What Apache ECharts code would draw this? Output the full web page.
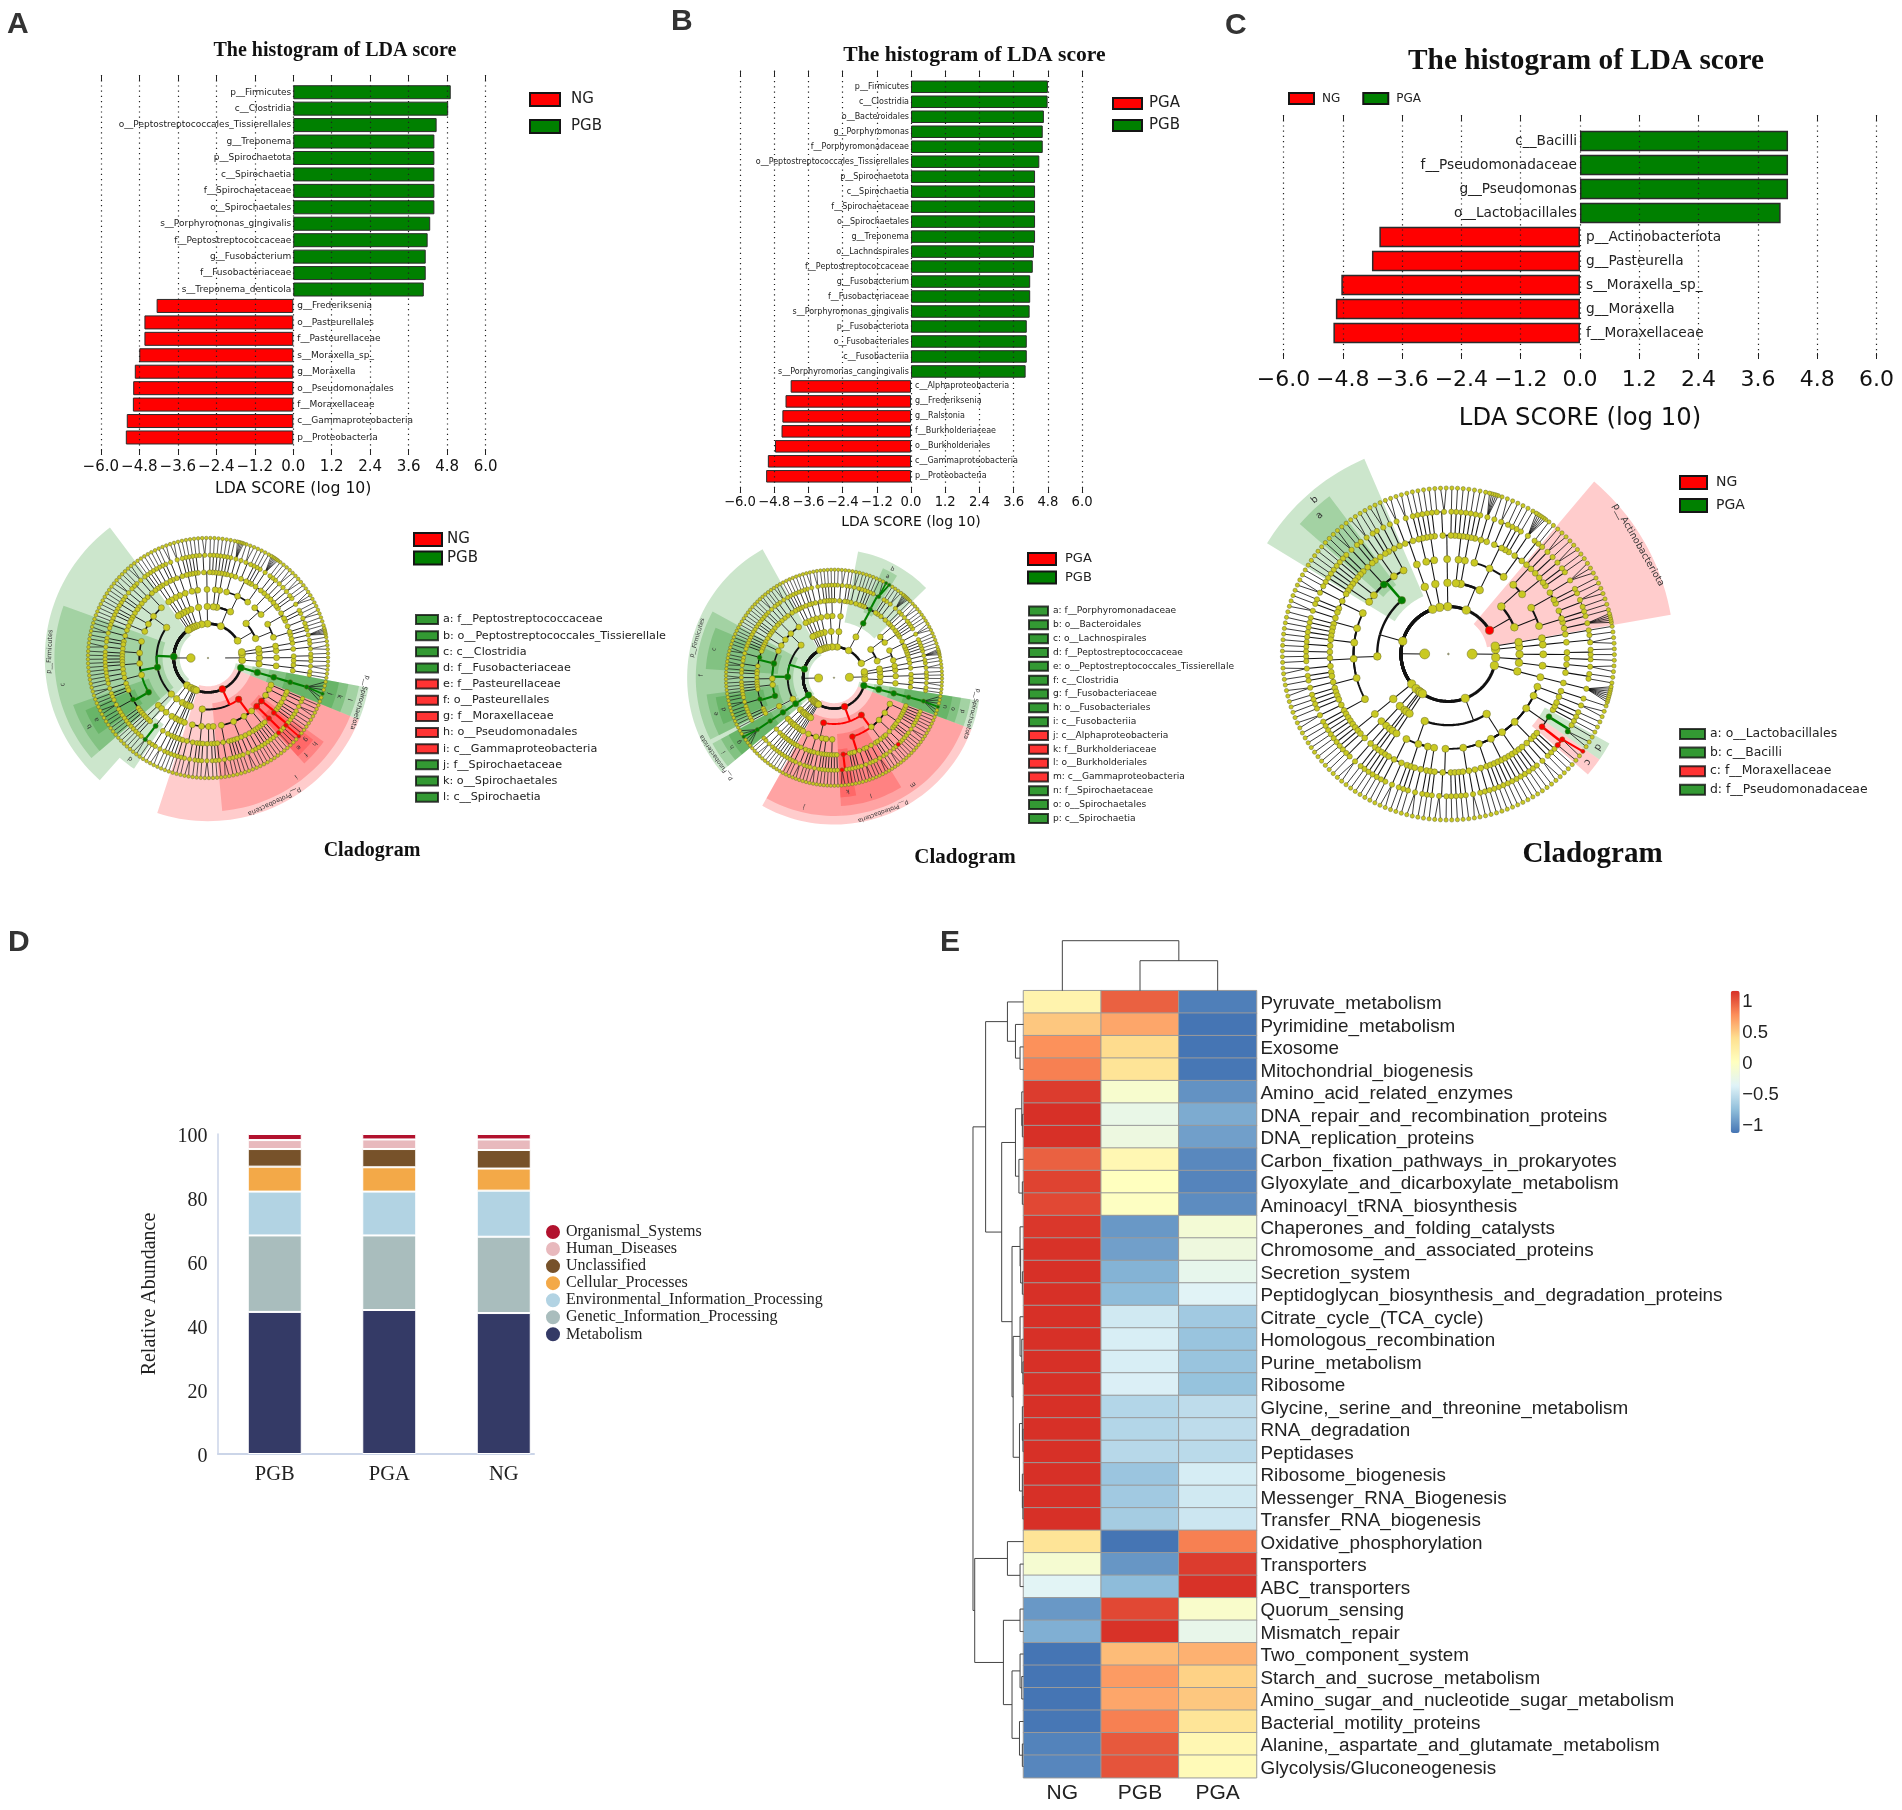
<!DOCTYPE html>
<html><head><meta charset="utf-8"><title>LDA, cladograms, KEGG abundance and heatmap</title>
<script src="https://cdn.jsdelivr.net/npm/echarts@6/dist/echarts.min.js"></script>
<style>html,body{margin:0;padding:0;background:#fff}#c{width:1902px;height:1810px}</style></head>
<body><div id="c"></div>
<script>
/* ---------- LDA bars ---------- */
const catsA=['p__Firmicutes','c__Clostridia','o__Peptostreptococcales_Tissierellales','g__Treponema','p__Spirochaetota','c__Spirochaetia','f__Spirochaetaceae','o__Spirochaetales','s__Porphyromonas_gingivalis','f__Peptostreptococcaceae','g__Fusobacterium','f__Fusobacteriaceae','s__Treponema_denticola','g__Frederiksenia','o__Pasteurellales','f__Pasteurellaceae','s__Moraxella_sp_','g__Moraxella','o__Pseudomonadales','f__Moraxellaceae','c__Gammaproteobacteria','p__Proteobacteria'];
const ldaA=[4.91,4.83,4.47,4.40,4.40,4.40,4.40,4.40,4.27,4.19,4.13,4.13,4.07,-4.26,-4.64,-4.64,-4.80,-4.94,-4.99,-5.00,-5.19,-5.22];
const catsB=['p__Firmicutes','c__Clostridia','o__Bacteroidales','g__Porphyromonas','f__Porphyromonadaceae','o__Peptostreptococcales_Tissierellales','p__Spirochaetota','c__Spirochaetia','f__Spirochaetaceae','o__Spirochaetales','g__Treponema','o__Lachnospirales','f__Peptostreptococcaceae','g__Fusobacterium','f__Fusobacteriaceae','s__Porphyromonas_gingivalis','p__Fusobacteriota','o__Fusobacteriales','c__Fusobacteriia','s__Porphyromonas_cangingivalis','c__Alphaproteobacteria','g__Frederiksenia','g__Ralstonia','f__Burkholderiaceae','o__Burkholderiales','c__Gammaproteobacteria','p__Proteobacteria'];
const ldaB=[4.80,4.79,4.66,4.62,4.62,4.50,4.35,4.35,4.35,4.35,4.35,4.31,4.27,4.18,4.18,4.16,4.06,4.06,4.06,4.02,-4.22,-4.40,-4.51,-4.54,-4.77,-5.02,-5.08];
const catsC=['c__Bacilli','f__Pseudomonadaceae','g__Pseudomonas','o__Lactobacillales','p__Actinobacteriota','g__Pasteurella','s__Moraxella_sp_','g__Moraxella','f__Moraxellaceae'];
const ldaC=[4.21,4.21,4.21,4.06,-4.06,-4.21,-4.83,-4.94,-4.99];

/* ---------- cladogram clade lists ---------- */
const listA=['a: f__Peptostreptococcaceae','b: o__Peptostreptococcales_Tissierellale','c: c__Clostridia','d: f__Fusobacteriaceae','e: f__Pasteurellaceae','f: o__Pasteurellales','g: f__Moraxellaceae','h: o__Pseudomonadales','i: c__Gammaproteobacteria','j: f__Spirochaetaceae','k: o__Spirochaetales','l: c__Spirochaetia'];
const listAColors=['g','g','g','g','r','r','r','r','r','g','g','g'];
const listB=['a: f__Porphyromonadaceae','b: o__Bacteroidales','c: o__Lachnospirales','d: f__Peptostreptococcaceae','e: o__Peptostreptococcales_Tissierellale','f: c__Clostridia','g: f__Fusobacteriaceae','h: o__Fusobacteriales','i: c__Fusobacteriia','j: c__Alphaproteobacteria','k: f__Burkholderiaceae','l: o__Burkholderiales','m: c__Gammaproteobacteria','n: f__Spirochaetaceae','o: o__Spirochaetales','p: c__Spirochaetia'];
const listBColors=['g','g','g','g','g','g','g','g','g','r','r','r','r','g','g','g'];
const listC=['a: o__Lactobacillales','b: c__Bacilli','c: f__Moraxellaceae','d: f__Pseudomonadaceae'];
const listCColors=['g','g','r','g'];

/* Taxonomy. Nesting: phylum > class > order > family > genus.
   A number stands for one lineage down to genus carrying that many species; a negative
   number is a tightly packed fan of species. A leading string is colour|label of a clade. */
const archaea=[[[[[1,1],[2]]],[[[1],[1,1]]]],[[[[2,1]]]],1];
const actino=[[[[-5],[1],[1],[1,2]],[[1],[1],[3]]],[[[1],[1],[2],[1]],[[2],[1]]]];
const actinoB=[[[[-5],[1],[1],[1]],[[1],[1],[3]]],[[[1],[1],[1],[1]],[[2],[1]]]];
const bacteroid=[[[[1,1],[-6]],[[1],[1],[1],[1,2]],[[1],[-5],[1]]],[[[1],[1]]],[[[1],[1]]]];
const smallPhyla=[[[[[1],[1],[2,1]]]],[[[[1],[1],[1]],[[1],[1]]]],[[[[2],[2]]]],1,[[[[1],[1,1]]]],1,[[[[1],[1]]]]];
const bacilli=[[[1],[2],[1,1],[1]],[[2],[1],[1]],[[1,1],[1],[1]],[[1],[1,1]]];
const clostOrders=[[[1],[1,2],[1],[1]],[[2],[1],[1]],[[1],[1],[1],[1,1]],[[1],[1,1],[2]]];
const tailPhyla=[[[[[1,1]],[[2]]]],1,1,[[[[1],[1]]]]];
const alpha=[[[1],[1,1],[2]],[[1],[1],[1]],[[2],[1]],[[1]]];
const burk=[[[1],[2,1],[1],[1]],[[1],[1],[2],[1]],[[1,1],[1],[1],[1]],[[1],[1],[1]]];
const gammaRest=[[[1],[1],[1]],[[2],[1]],[[1]]];

const firmA=['g|p__Firmicutes',bacilli,['g|c',...clostOrders,['g|b',[1],[1],['g|a',1,2,1,1,1],[1],[1],[1]]],[[[1],[1],[1]],[[1]]]];
const fusoA=[[[['g|d',1,['g|',2],1]]]];
const proteoA=['r|p__Proteobacteria',alpha,['r|i',...burk,['r|f',['r|e',['r|',1],1,1]],['r|h',['r|g',['r|','r'],1],[1]],...gammaRest]];
const spiroA=['g|p__Spirochaetota',['g|l',['g|k',['g|j',['g|',2,'g',3]]]]];
const treeA=[['n|',...archaea],['y|',actino,bacteroid,...smallPhyla,firmA,fusoA,...tailPhyla,proteoA,spiroA]];

const bacteroidB=[[['g|b',[1],[-6],[2],[1],[1],['g|a',['g|','g','g',1],1],[1],[1],[1],[1,1],[2]]]];
const firmB=['g|p__Firmicutes',bacilli,['g|f',[[1],[1],[1]],['g|c',[1],[1],['g|',1,2,1],[1,2],[1]],[[1],[2],[1],[1]],[[1]],['g|e',[1],['g|d',1,1,2,1,1,1],[1],[1]]],[[1]]];
const fusoB=['g|p__Fusobacteriota',['g|i',['g|h',['g|g',['g|',2,'g',3]]]]];
const proteoB=['r|p__Proteobacteria',['r|j',...alpha,[[1],[1],[1],[1],[1]]],['r|m',['r|l',['r|k',['r|',1,1],1,1],[1],[1],[1],[1,2],[1],[1],[1,2]],[[1],[1],[2],[1],[1]],[[['r|',1],1,1],[1]],[[1],[1],[2],[1]],[[1],[1],[1],[1],[1]]]];
const spiroB=['g|p__Spirochaetota',['g|p',['g|o',['g|n',['g|',2,'g',3]]]]];
const treeB=[['y|',...archaea],['y|',actinoB,bacteroidB,...smallPhyla,firmB,fusoB,...tailPhyla,1,1,1,proteoB,spiroB]];

const actinoC=['r|p__Actinobacteriota',...actino];
const firmC=['y|',['g|b',[[1],[2],[1],[1]],[[2]],['g|a',[1],[1],[2],[1],[1]],[[1],[1],[1]],[[1],[1]]],[...clostOrders,[[1],[1],[2],[1],[1],[1]],[[1],[2],[1],[1],[1],[1]]]];
const proteoC=[alpha,[...burk,[[1],[1],[1],[1],[1]],[[2],[1],[1],[1]],[['r|c',['r|',1],['r|',1,'r']],['g|d',['g|',1,1],1]],[[1],[1],[1]],[[2],[1]]]];
const treeC=[['y|',...archaea],['y|',actinoC,bacteroid,...smallPhyla.slice(0,3),firmC,[[[[1],[1],[1],[1]]]],...tailPhyla,proteoC,-8]];

/* ---------- stacked functional abundance ---------- */
const groupsD=['PGB','PGA','NG'];
const metabolism=[44.4,45.0,44.05];
const genetic=[23.9,23.3,23.85];
const environmental=[13.7,13.7,14.4];
const cellular=[7.8,7.6,6.9];
const unclassified=[5.5,5.7,5.8];
const humanDiseases=[2.8,3.0,3.3];
const organismal=[1.9,1.7,1.7];

/* ---------- heatmap ---------- */
const pathways=['Pyruvate_metabolism','Pyrimidine_metabolism','Exosome','Mitochondrial_biogenesis','Amino_acid_related_enzymes','DNA_repair_and_recombination_proteins','DNA_replication_proteins','Carbon_fixation_pathways_in_prokaryotes','Glyoxylate_and_dicarboxylate_metabolism','Aminoacyl_tRNA_biosynthesis','Chaperones_and_folding_catalysts','Chromosome_and_associated_proteins','Secretion_system','Peptidoglycan_biosynthesis_and_degradation_proteins','Citrate_cycle_(TCA_cycle)','Homologous_recombination','Purine_metabolism','Ribosome','Glycine,_serine_and_threonine_metabolism','RNA_degradation','Peptidases','Ribosome_biogenesis','Messenger_RNA_Biogenesis','Transfer_RNA_biogenesis','Oxidative_phosphorylation','Transporters','ABC_transporters','Quorum_sensing','Mismatch_repair','Two_component_system','Starch_and_sucrose_metabolism','Amino_sugar_and_nucleotide_sugar_metabolism','Bacterial_motility_proteins','Alanine,_aspartate_and_glutamate_metabolism','Glycolysis/Gluconeogenesis'];
const heatCols=['NG','PGB','PGA'];
const heatNG=[.15,.5,.75,.82,1.1,1.15,1.15,.95,1.07,1.05,1.12,1.14,1.15,1.15,1.15,1.15,1.15,1.15,1.15,1.15,1.15,1.15,1.15,1.15,.33,-.12,-.36,-.97,-.85,-1.15,-1.15,-1.15,-1.14,-1.08,-1.06];
const heatPGB=[.95,.65,.4,.33,-.1,-.27,-.22,.1,0,-.02,-.97,-.93,-.83,-.78,-.46,-.42,-.42,-.41,-.6,-.6,-.58,-.72,-.69,-.67,-1.15,-.98,-.78,1.05,1.14,.55,.7,.65,.82,.98,1];
const heatPGA=[-1.1,-1.15,-1.15,-1.14,-1,-.87,-.93,-1.05,-1.07,-1.03,-.15,-.21,-.3,-.37,-.69,-.73,-.73,-.74,-.55,-.55,-.57,-.43,-.46,-.48,.82,1.1,1.14,-.08,-.29,.6,.45,.5,.32,.1,.06];
const rowTree=[88,[66,[28,0,[14,1,[6,2,3]]],[38,[14,[3,4,[2,5,6]],[8,7,[2,8,9]]],[20,[6,10,[5,11,[2,12,13]]],[18,[6,14,[3,15,[1,16,17]]],[7,[2,18,[1,19,20]],[2,21,[1,22,23]]]]]]],[85,[28,24,[6,25,26]],[35,[6,27,28],[20,[6,29,[3,30,31]],[7,32,[2,33,34]]]]]];
const colTree=[50,0,[30,1,2]];
const heatPalette=['#4575B4','#91BFDB','#E0F3F8','#FFFFBF','#FEE090','#FC8D59','#D73027'];
const heatTicks=[-1,-.5,0,.5,1];

/* ---------- page assembly ---------- */
const GREEN='#008000',RED='#ff0000';
const grids=[],xAxes=[],yAxes=[],series=[],legends=[],titles=[],polars=[],radiusAxes=[],angleAxes=[];
const DJ='DejaVu Sans',SERIF='Liberation Serif',SANS='Liberation Sans';
const fmtLDA=v=>{if(Math.abs(v)<1e-6)return '0.0';return v.toFixed(1).replace('-','\u2212');};

function ldaPanel(c){
  const g=grids.length;
  grids.push({left:c.x0,width:c.x1-c.x0,top:c.y0,height:c.y1-c.y0});
  xAxes.push({gridIndex:g,type:'value',min:-6,max:6,interval:1.2,position:'bottom',z:5,axisLine:{show:false},
    axisTick:{inside:true,length:6,lineStyle:{color:'#222',width:1}},
    axisLabel:{fontFamily:DJ,fontSize:c.tick,color:'#111',margin:c.tickMargin,formatter:fmtLDA,hideOverlap:false},
    splitLine:{show:true,lineStyle:{type:[1.2,4],color:'#222',width:1.2}},
    name:'LDA SCORE (log 10)',nameLocation:'middle',nameGap:c.nameGap,nameTextStyle:{fontFamily:DJ,fontSize:c.nameSize,color:'#111'}});
  xAxes.push({gridIndex:g,type:'value',min:-6,max:6,interval:1.2,position:'top',z:5,axisLine:{show:false},
    axisTick:{inside:true,length:6,lineStyle:{color:'#222',width:1}},axisLabel:{show:false},splitLine:{show:false}});
  yAxes.push({gridIndex:g,type:'value',min:0,max:1,show:false});
  const g2=grids.length;
  grids.push({left:c.x0,width:c.x1-c.x0,top:c.by0,height:c.by1-c.by0});
  const xj=xAxes.length,yj=yAxes.length;
  xAxes.push({gridIndex:g2,type:'value',min:-6,max:6,show:false});
  yAxes.push({gridIndex:g2,type:'category',inverse:true,data:c.cats,show:false});
  const mk=(name,color,sel,pos,dist)=>({type:'bar',name,xAxisIndex:xj,yAxisIndex:yj,barWidth:c.barW,barGap:'-100%',
    data:c.vals.map(v=>sel(v)?v:null),
    itemStyle:{color,borderColor:'#2b2b2b',borderWidth:c.border},
    label:{show:true,position:pos,distance:dist,formatter:'{b}',fontFamily:DJ,fontSize:c.lab,color:'#222'}});
  series.push(mk(c.pos,GREEN,v=>v>0,'left',c.dl));
  series.push(mk(c.neg,RED,v=>v<0,'right',c.dr));
}
ldaPanel({x0:100.8,x1:485.7,y0:75,y1:455,by0:84,by1:445.7,cats:catsA,vals:ldaA,pos:'PGB',neg:'NG',barW:14,border:1,lab:9,dl:2,dr:4,tick:15,tickMargin:5,nameGap:26,nameSize:15.7});
ldaPanel({x0:739.9,x1:1082.1,y0:70.7,y1:493,by0:79.3,by1:483.8,cats:catsB,vals:ldaB,pos:'PGB',neg:'PGA',barW:12.5,border:1,lab:8,dl:2,dr:4,tick:13.2,tickMargin:3,nameGap:22,nameSize:14});
ldaPanel({x0:1283.5,x1:1876.5,y0:115,y1:359,by0:129,by1:345,cats:catsC,vals:ldaC,pos:'PGA',neg:'NG',barW:20.5,border:1.5,lab:13.7,dl:3,dr:6,tick:22,tickMargin:10,nameGap:48,nameSize:24.3});

function groupLegend(names,colors,left,top,w,h,gap,size,pad,horizontal){
  legends.push({orient:horizontal?'horizontal':'vertical',left,top,padding:0,itemWidth:w,itemHeight:h,itemGap:gap,selectedMode:false,icon:'rect',
    data:names.map((n,i)=>({name:n,itemStyle:{color:colors[i],borderColor:'#151515',borderWidth:2}})),
    textStyle:{fontFamily:DJ,fontSize:size,color:'#222',lineHeight:h,padding:[0,0,0,pad]}});
}
groupLegend(['NG','PGB'],[RED,GREEN],529,92,30,13,12,15,6);
groupLegend(['PGA','PGB'],[RED,GREEN],1112,96,29,11,7.1,15,2);
groupLegend(['NG','PGA'],[RED,GREEN],1288,92,25,11,22,12,3,true);
groupLegend(['NG','PGB'],[RED,GREEN],413,532,28,13,3.6,15,0);
groupLegend(['PGA','PGB'],[RED,GREEN],1027,552,28,12,4.6,13,4);
groupLegend(['NG','PGA'],[RED,GREEN],1679,475,27,13,8,14,4);

function listLegend(names,codes,left,top,w,h,gap,size){
  names.forEach((n,i)=>series.push({type:'scatter',name:n,data:[],xAxisIndex:0,yAxisIndex:0,itemStyle:{color:codes[i]==='g'?GREEN:RED}}));
  legends.push({orient:'vertical',left,top,padding:0,itemWidth:w,itemHeight:h,itemGap:gap,selectedMode:false,icon:'rect',
    data:names.map((n,i)=>({name:n,itemStyle:{color:codes[i]==='g'?GREEN:RED,borderColor:'#111',borderWidth:2}})),
    textStyle:{fontFamily:DJ,fontSize:size,color:'#222',lineHeight:h}});
}
listLegend(listA,listAColors,415,614,22,9,5.15,11.2);
listLegend(listB,listBColors,1028,605.5,19,9,2.83,9.1);
listLegend(listC,listCColors,1679,728,25,10,6.6,12.4);

/* cladogram: the tree is laid out by walking the nested lists, the polar axes place it */
const SIZE=[1.5,8.5,7,6.5,6,5,4.5,3.6], WID=[0,0,2.6,2,1.6,1.1,.8,.7], OUT={2:9.52,3:8.96,4:8.33,5:7.77}, FAN=.4;
function parseNode(raw,level,ctx,weight){
  if(typeof raw==='string'){const a=ctx.next(1);return {level,color:raw,kids:[],a,a0:a,a1:a};}
  if(level===7){const a=ctx.next(weight||1);return {level,kids:[],a,a0:a,a1:a};}
  let kids=raw,node={level,kids:[]};
  if(Array.isArray(raw)&&typeof raw[0]==='string'){const p=raw[0].split('|');node.color=p[0];node.text=p[1];kids=raw.slice(1);}
  if(typeof raw==='number')kids=[raw];
  if(level===6){
    kids.forEach(k=>{
      if(typeof k==='string')node.kids.push(parseNode(k,7,ctx));
      else for(let i=0;i<Math.abs(k);i++)node.kids.push(parseNode(null,7,ctx,k<0?FAN:1));
    });
  }else if(typeof raw==='number'){
    node.kids.push(parseNode(raw,level+1,ctx));
  }else{
    kids.forEach(k=>node.kids.push(parseNode(k,level+1,ctx)));
  }
  node.a0=node.kids[0].a0;node.a1=node.kids[node.kids.length-1].a1;node.a=(node.a0+node.a1)/2;
  return node;
}
function countLeaves(raw){
  if(typeof raw==='string')return 1;
  if(typeof raw==='number')return raw<0?-raw*FAN:raw;
  let kids=typeof raw[0]==='string'?raw.slice(1):raw,s=0;
  kids.forEach(k=>s+=countLeaves(k));return s;
}
function cladogram(tree,start,cx,cy,R,labelSize){
  const pi=polars.length,scale=R/120,sz=Math.sqrt(scale);
  polars.push({center:[cx,cy],radius:1.4*R});
  radiusAxes.push({polarIndex:pi,min:0,max:9.8,show:false});
  angleAxes.push({polarIndex:pi,min:0,max:360,startAngle:0,clockwise:false,show:false});
  let total=0;tree.forEach(k=>total+=countLeaves(k));
  const step=360/total;let pos=0;
  const ctx={next:w=>{const a=start+step*(pos+w/2);pos+=w;return a;}};
  const kingdoms=tree.map(k=>parseNode(k,1,ctx));
  const nodes=[{level:0,a:0,color:'x'}],edges=[],sectors=[];
  const colorOf=c=>c==='g'?GREEN:c==='r'?RED:null;
  (function walk(list){list.forEach(n=>{
    if(n.color!=='n')nodes.push(n);
    if(n.text)sectors.push({a0:n.a0-step/2,a1:n.a1+step/2,r0:n.level-.35,r1:OUT[n.level],fill:n.color==='g'?'rgba(0,128,0,.2)':'rgba(255,0,0,.2)',text:n.text,isPhylum:n.level===2,mid:n.a});
    const L=n.level+1,pc=colorOf(n.color),w=WID[L]*sz;
    n.kids.forEach(c=>{
      const cc=colorOf(c.color),col=pc&&cc?cc:'#111';
      if(L===7){edges.push({v:[n.level,n.a,L,c.a],w:pc&&cc?1.8*sz:w,col});return;}
      if(Math.abs(c.a-n.a)>.01)edges.push({v:[L,n.a,L,c.a],w:pc&&cc?Math.max(w,2*sz):w,col});
    });
    if(L<7&&n.kids.length){
      const hit=pc&&n.kids.find(c=>colorOf(c.color));
      edges.push({v:[n.level,n.a,L,n.a],w:hit?2.2*sz:.9*sz,col:hit?colorOf(hit.color):'#111'});
    }
    walk(n.kids);
  });})(kingdoms);
  const edgeList=edges.sort((a,b)=>(a.col==='#111'?0:1)-(b.col==='#111'?0:1));
  series.push({type:'custom',coordinateSystem:'polar',polarIndex:pi,silent:true,z:1,clip:false,
    encode:{radius:[0,2],angle:[1,3]},
    data:sectors.map(s=>[s.r0,s.a0,s.r1,s.a1]),
    renderItem(p,api){
      const s=sectors[p.dataIndex],pts=[];
      for(let a=s.a0;;a+=2){const t=Math.min(a,s.a1);const q=api.coord([s.r1,t]);pts.push([q[0],q[1]]);if(t>=s.a1)break;}
      for(let a=s.a1;;a-=2){const t=Math.max(a,s.a0);const q=api.coord([s.r0,t]);pts.push([q[0],q[1]]);if(t<=s.a0)break;}
      const lp=api.coord([s.r1-(s.isPhylum?.28:.35),s.mid]);
      return {type:'group',children:[
        {type:'polygon',shape:{points:pts},style:{fill:s.fill}},
        {type:'text',x:lp[0],y:lp[1],rotation:(s.mid-90)*Math.PI/180,z2:5,style:{text:s.text,fontFamily:DJ,fontSize:labelSize,fill:'#333',align:'center',verticalAlign:'middle'}}
      ]};
    }});
  series.push({type:'custom',coordinateSystem:'polar',polarIndex:pi,silent:true,z:2,clip:false,
    encode:{radius:[0,2],angle:[1,3]},
    data:edgeList.map(e=>e.v),
    renderItem(p,api){
      const e=edgeList[p.dataIndex],[r1,a1,r2,a2]=e.v,pts=[];
      if(r1===r2){const n=Math.ceil(Math.abs(a2-a1)/1.5)+1;
        for(let k=0;k<=n;k++){const q=api.coord([r1,a1+(a2-a1)*k/n]);pts.push([q[0],q[1]]);}}
      else{let q=api.coord([r1,a1]);pts.push([q[0],q[1]]);q=api.coord([r2,a2]);pts.push([q[0],q[1]]);}
      return {type:'polyline',shape:{points:pts},style:{stroke:e.col,lineWidth:e.w,fill:null}};
    }});
  const ordered=nodes.slice().sort((a,b)=>(colorOf(a.color)?1:0)-(colorOf(b.color)?1:0));
  series.push({type:'scatter',coordinateSystem:'polar',polarIndex:pi,silent:true,z:3,
    data:ordered.map(n=>[n.level,((n.a%360)+360)%360]),
    symbolSize:(v,p)=>SIZE[ordered[p.dataIndex].level]*sz,
    itemStyle:{color:p=>{const n=ordered[p.dataIndex];return n.level===0?'#aaa':(colorOf(n.color)||'#c9c922');},borderColor:'#6a6a2a',borderWidth:.5,opacity:1}});
}
cladogram(treeA,-10.5,208,658,120,6.5);
cladogram(treeB,351,834,677.7,108,6);
cladogram(treeC,-11,1448.4,654,166,9.5);

/* stacked bars */
{
  const g=grids.length;
  grids.push({left:217.5,width:343.5,top:1134,height:320});
  const xi=xAxes.length,yi=yAxes.length;
  xAxes.push({gridIndex:g,type:'category',data:groupsD,axisLine:{show:false},axisTick:{show:false},axisLabel:{fontFamily:SERIF,fontSize:20.5,color:'#222',margin:10}});
  yAxes.push({gridIndex:g,type:'value',min:0,max:100,interval:20,splitLine:{show:false},axisTick:{show:false},
    axisLine:{show:true,lineStyle:{color:'#cbd5e8',width:1.5}},axisLabel:{fontFamily:SERIF,fontSize:20,color:'#222',margin:10,verticalAlign:'top',lineHeight:6},
    name:'Relative Abundance',nameLocation:'middle',nameGap:58,nameRotate:90,nameTextStyle:{fontFamily:SERIF,fontSize:20,color:'#222'}});
  const g2=grids.length;
  grids.push({left:218,width:316,top:1134,height:320});
  xAxes.push({gridIndex:g2,type:'value',min:0,max:1,axisLine:{show:true,lineStyle:{color:'#cbd5e8',width:2}},axisTick:{show:false},axisLabel:{show:false},splitLine:{show:false}});
  yAxes.push({gridIndex:g2,type:'value',min:0,max:1,show:false});
  const layers=[['Metabolism',metabolism,'#343a66'],['Genetic_Information_Processing',genetic,'#a9bdbd'],['Environmental_Information_Processing',environmental,'#b2d3e3'],['Cellular_Processes',cellular,'#f3a948'],['Unclassified',unclassified,'#77522a'],['Human_Diseases',humanDiseases,'#e8b9bd'],['Organismal_Systems',organismal,'#b2122e']];
  layers.forEach(l=>series.push({type:'bar',name:l[0],stack:'d',xAxisIndex:xi,yAxisIndex:yi,barWidth:54,data:l[1],itemStyle:{color:l[2],borderColor:'#fff',borderWidth:1}}));
  legends.push({orient:'vertical',left:544,top:1223,padding:0,itemWidth:16,itemHeight:17,itemGap:-.95,selectedMode:false,icon:'circle',
    data:layers.slice().reverse().map(l=>l[0]),textStyle:{fontFamily:SERIF,fontSize:16,color:'#222',lineHeight:17}});
}

/* heatmap */
const dendroSeries=(tree,xi,yi,left)=>{
  const links=[];
  (function w(n){
    if(typeof n==='number')return {p:n+.5,h:0};
    const a=w(n[1]),b=w(n[2]);links.push([a.p,a.h,b.p,b.h,n[0]]);return {p:(a.p+b.p)/2,h:n[0]};
  })(tree);
  series.push({type:'custom',coordinateSystem:'cartesian2d',xAxisIndex:xi,yAxisIndex:yi,silent:true,clip:false,
    encode:left?{x:[1,3,4],y:[0,2]}:{x:[0,2],y:[1,3,4]},data:links,
    renderItem(p,api){
      const [p1,h1,p2,h2,h]=[0,1,2,3,4].map(i=>api.value(i));
      const c=(pos,ht)=>left?api.coord([ht,pos]):api.coord([pos,ht]);
      return {type:'polyline',shape:{points:[c(p1,h1),c(p1,h),c(p2,h),c(p2,h2)]},style:{stroke:'#444',lineWidth:1,fill:null}};
    }});
};
let heatIndex;
{
  const g=grids.length;
  grids.push({left:1023.5,width:233,top:990.7,height:787});
  const xi=xAxes.length,yi=yAxes.length;
  xAxes.push({gridIndex:g,type:'category',data:heatCols,axisLine:{show:false},axisTick:{show:false},axisLabel:{fontFamily:SANS,fontSize:21,color:'#222',margin:5}});
  yAxes.push({gridIndex:g,type:'category',inverse:true,position:'right',data:pathways,axisLine:{show:false},axisTick:{show:false},axisLabel:{fontFamily:SANS,fontSize:18.85,color:'#222',margin:4,interval:0,verticalAlign:'top',lineHeight:4}});
  const cells=[];
  pathways.forEach((_,r)=>{cells.push([0,r,heatNG[r]],[1,r,heatPGB[r]],[2,r,heatPGA[r]]);});
  heatIndex=series.length;
  series.push({type:'heatmap',xAxisIndex:xi,yAxisIndex:yi,data:cells,itemStyle:{borderColor:'#9a9a9a',borderWidth:1},emphasis:{disabled:true}});
  const g2=grids.length;grids.push({left:970,width:53.5,top:990.7,height:787});
  const x2=xAxes.length,y2=yAxes.length;
  xAxes.push({gridIndex:g2,type:'value',min:0,max:93.2,inverse:true,show:false});
  yAxes.push({gridIndex:g2,type:'value',min:0,max:35,inverse:true,show:false});
  dendroSeries(rowTree,x2,y2,true);
  const g3=grids.length;grids.push({left:1023.5,width:233,top:935,height:55.7});
  const x3=xAxes.length,y3=yAxes.length;
  xAxes.push({gridIndex:g3,type:'value',min:0,max:3,show:false});
  yAxes.push({gridIndex:g3,type:'value',min:0,max:55.7,show:false});
  dendroSeries(colTree,x3,y3,false);
  const g4=grids.length;grids.push({left:1738.3,width:1,top:990.7,height:142.3});
  xAxes.push({gridIndex:g4,type:'value',min:0,max:1,show:false});
  yAxes.push({gridIndex:g4,type:'value',min:-1.15,max:1.15,position:'right',axisLine:{show:false},axisTick:{show:false},splitLine:{show:false},
    axisLabel:{customValues:heatTicks,fontFamily:SANS,fontSize:18.5,color:'#222',margin:3,verticalAlign:'top',lineHeight:4,formatter:v=>String(v).replace('-','\u2212')}});
}

const T=(text,x,y,size,font,weight,color)=>titles.push({text,left:x,top:y,textAlign:font===SANS?'left':'center',textVerticalAlign:'middle',padding:0,textStyle:{fontFamily:font,fontSize:size,fontWeight:weight||'bold',color:color||'#111'}});
T('A',7,25,30,SANS,'bold','#333');T('B',671,22,30,SANS,'bold','#333');T('C',1225,26,30,SANS,'bold','#333');T('D',8,943,30,SANS,'bold','#333');T('E',940,943,30,SANS,'bold','#333');
T('The histogram of LDA score',335,51,20,SERIF);T('The histogram of LDA score',974.5,55.4,21.6,SERIF);T('The histogram of LDA score',1586,61,29.3,SERIF);
T('Cladogram',372,851,20,SERIF);T('Cladogram',965,858,21,SERIF);T('Cladogram',1592.5,855,29,SERIF);

const chart=echarts.init(document.getElementById('c'),null,{renderer:'canvas'});
chart.setOption({animation:false,backgroundColor:'#fff',title:titles,grid:grids,xAxis:xAxes,yAxis:yAxes,polar:polars,radiusAxis:radiusAxes,angleAxis:angleAxes,legend:legends,
  visualMap:[{type:'continuous',seriesIndex:heatIndex,dimension:2,min:-1.15,max:1.15,calculable:false,left:1730.7,top:990.7,padding:0,itemWidth:9,itemHeight:142.3,text:null,inRange:{color:heatPalette}}],
  series});
</script></body></html>
